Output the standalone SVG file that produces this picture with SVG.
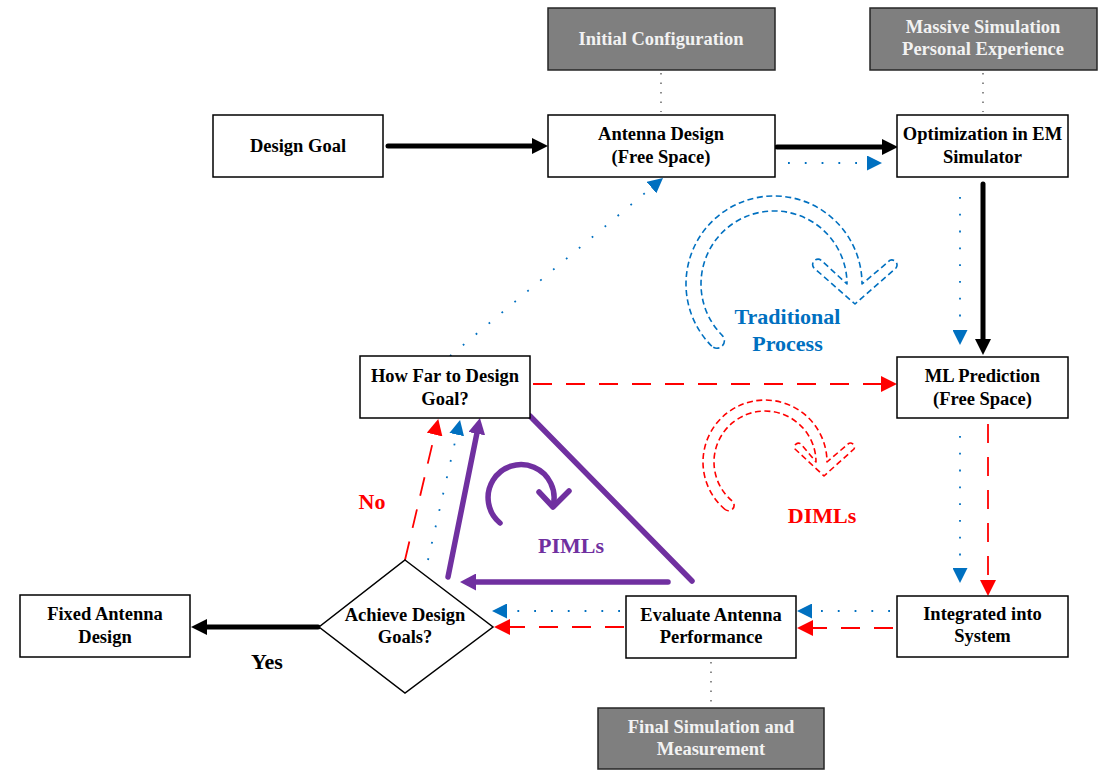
<svg xmlns="http://www.w3.org/2000/svg" width="1102" height="770" viewBox="0 0 1102 770">
<style>
.box{fill:#fff;stroke:#000;stroke-width:1.5}
.gbox{fill:#7f7f7f;stroke:#262626;stroke-width:1.5}
.t{font-family:"Liberation Serif","Times New Roman",serif;font-weight:bold;font-size:18.5px;text-anchor:middle;fill:#000}
.gt{fill:#f2f2f2}
.lbl{font-family:"Liberation Serif","Times New Roman",serif;font-weight:bold;font-size:22px;text-anchor:middle}
.blk{stroke:#000;stroke-width:5;fill:none;stroke-linecap:round}
.blu{stroke:#0070C0;stroke-width:1.8;fill:none;stroke-dasharray:1.8 15}
.red{stroke:#FF0000;stroke-width:1.8;fill:none;stroke-dasharray:19 14}
.pur{stroke:#7030A0;stroke-width:5.5;fill:none;stroke-linecap:round;stroke-linejoin:round}
.gry{stroke:#404040;stroke-width:1.2;fill:none;stroke-dasharray:1.5 8}
.barc{fill:none;stroke-width:1.6;stroke-dasharray:6 3.5;stroke-linejoin:round}
</style>
<defs>
<marker id="mBlk" markerUnits="userSpaceOnUse" markerWidth="17" markerHeight="16" refX="0" refY="8" orient="auto"><path d="M0,0 L16,8 L0,16 Z" fill="#000"/></marker>
<marker id="mBlu" markerUnits="userSpaceOnUse" markerWidth="16" markerHeight="15" refX="0" refY="7.5" orient="auto"><path d="M0,0 L15,7.5 L0,15 Z" fill="#0070C0"/></marker>
<marker id="mRed" markerUnits="userSpaceOnUse" markerWidth="17" markerHeight="16" refX="0" refY="8" orient="auto"><path d="M0,0 L16,8 L0,16 Z" fill="#FF0000"/></marker>
<marker id="mPur" markerUnits="userSpaceOnUse" markerWidth="17" markerHeight="17" refX="0" refY="8.5" orient="auto"><path d="M0,0 L16,8.5 L0,17 Z" fill="#7030A0"/></marker>
</defs>

<g id="connectors">
<line class="gry" x1="661" y1="73" x2="661" y2="112"/>
<line class="gry" x1="983" y1="73" x2="983" y2="112"/>
<line class="gry" x1="711" y1="662" x2="711" y2="705"/>
<line class="blk" x1="388" y1="146" x2="532" y2="146" marker-end="url(#mBlk)"/>
<line class="blk" x1="777" y1="147" x2="882" y2="147" marker-end="url(#mBlk)"/>
<line class="blk" x1="983" y1="184" x2="983" y2="339" marker-end="url(#mBlk)"/>
<line class="blk" x1="318" y1="627" x2="207" y2="627" marker-end="url(#mBlk)"/>
<line class="blu" x1="788" y1="163" x2="867" y2="163" marker-end="url(#mBlu)"/>
<line class="blu" x1="960" y1="197" x2="960" y2="330" marker-end="url(#mBlu)"/>
<line class="blu" x1="960" y1="436" x2="960" y2="568" marker-end="url(#mBlu)"/>
<line class="blu" x1="890" y1="611" x2="812" y2="611" marker-end="url(#mBlu)"/>
<line class="blu" x1="620" y1="611" x2="507" y2="611" marker-end="url(#mBlu)"/>
<line class="blu" x1="428" y1="560" x2="456.7" y2="434.6" marker-end="url(#mBlu)"/>
<line class="blu" x1="450" y1="356" x2="651.5" y2="187.6" marker-end="url(#mBlu)"/>
<line class="red" x1="533" y1="384" x2="881" y2="384" marker-end="url(#mRed)"/>
<line class="red" x1="988" y1="424" x2="988" y2="580" marker-end="url(#mRed)"/>
<line class="red" x1="893" y1="628" x2="813" y2="628" marker-end="url(#mRed)"/>
<line class="red" x1="624" y1="627" x2="510" y2="627" marker-end="url(#mRed)"/>
<line class="red" x1="405" y1="560" x2="434.6" y2="434.6" marker-end="url(#mRed)"/>
<line class="pur" x1="448" y1="577" x2="476.8" y2="433.7" marker-end="url(#mPur)"/>
<line class="pur" x1="668" y1="582" x2="476" y2="582" marker-end="url(#mPur)"/>
<line class="pur" x1="530" y1="416" x2="692" y2="581"/>
</g>

<g id="cycle-traditional">
<path class="barc" stroke="#0070C0" d="M711.8,346.2 A88,88 0 1 1 862,284 L888,262 A5,5 0 0 1 896,268 L855,304 L814,268 A5,5 0 0 1 822,261 L847,284 A73,73 0 1 0 722.4,335.6 A7.5,7.5 0 0 1 711.8,346.2 Z"/>
<text class="lbl" fill="#0070C0" x="787.5" y="324">Traditional</text>
<text class="lbl" fill="#0070C0" x="787.5" y="351">Process</text>
</g>
<g id="cycle-diml">
<path class="barc" stroke="#FF0000" d="M725.1,509.5 A62,62 0 1 1 827,462 L848,444 A4,4 0 0 1 854,449 L824,476 L795,449 A4,4 0 0 1 801,444 L816,462 A51,51 0 1 0 732.2,501.1 A5.5,5.5 0 0 1 725.1,509.5 Z"/>
<text class="lbl" fill="#FF0000" x="822" y="523">DIMLs</text>
</g>
<g id="cycle-piml">
<path class="pur" stroke-width="7" d="M500,523 A33,33 0 1 1 553,506"/>
<polyline class="pur" stroke-width="7" points="539,492 553,507 569,491"/>
<text class="lbl" fill="#7030A0" x="571" y="553">PIMLs</text>
</g>
<g id="labels">
<text class="lbl" fill="#FF0000" x="372" y="509">No</text>
<text class="lbl" fill="#000" x="267" y="669">Yes</text>
</g>

<g id="initial-config">
<rect class="gbox" x="548" y="8" width="227" height="62"/>
<text class="t gt" x="661" y="45">Initial Configuration</text>
</g>
<g id="massive-sim">
<rect class="gbox" x="870" y="8" width="227" height="62"/>
<text class="t gt" x="983" y="33">Massive Simulation</text>
<text class="t gt" x="983" y="55">Personal Experience</text>
</g>
<g id="design-goal">
<rect class="box" x="213" y="115" width="170" height="62"/>
<text class="t" x="298" y="152">Design Goal</text>
</g>
<g id="antenna-design">
<rect class="box" x="548" y="115" width="227" height="62"/>
<text class="t" x="661" y="140">Antenna Design</text>
<text class="t" x="661" y="163">(Free Space)</text>
</g>
<g id="optimization">
<rect class="box" x="897" y="115" width="171" height="62"/>
<text class="t" x="982.5" y="140">Optimization in EM</text>
<text class="t" x="982.5" y="163">Simulator</text>
</g>
<g id="how-far">
<rect class="box" x="360" y="356" width="170" height="62"/>
<text class="t" x="445" y="382">How Far to Design</text>
<text class="t" x="445" y="405">Goal?</text>
</g>
<g id="ml-prediction">
<rect class="box" x="897" y="357" width="171" height="61"/>
<text class="t" x="982.5" y="382">ML Prediction</text>
<text class="t" x="982.5" y="405">(Free Space)</text>
</g>
<g id="fixed-antenna">
<rect class="box" x="20" y="595" width="170" height="62"/>
<text class="t" x="105" y="620">Fixed Antenna</text>
<text class="t" x="105" y="643">Design</text>
</g>
<g id="achieve-goals">
<polygon class="box" points="405,560 493,627 405,693 319,627"/>
<text class="t" x="405" y="621">Achieve Design</text>
<text class="t" x="405" y="643">Goals?</text>
</g>
<g id="evaluate">
<rect class="box" x="626" y="596" width="170" height="62"/>
<text class="t" x="711" y="621">Evaluate Antenna</text>
<text class="t" x="711" y="643">Performance</text>
</g>
<g id="integrated">
<rect class="box" x="897" y="596" width="171" height="61"/>
<text class="t" x="982.5" y="620">Integrated into</text>
<text class="t" x="982.5" y="642">System</text>
</g>
<g id="final-sim">
<rect class="gbox" x="598" y="708" width="226" height="61"/>
<text class="t gt" x="711" y="733">Final Simulation and</text>
<text class="t gt" x="711" y="755">Measurement</text>
</g>
</svg>
